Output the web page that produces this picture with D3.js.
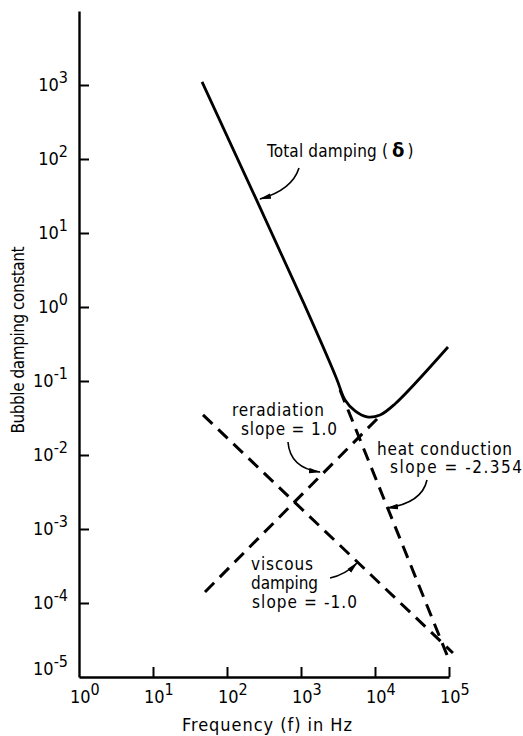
<!DOCTYPE html>
<html lang="en">
<head>
  <meta charset="UTF-8">
  <title>Bubble damping constant</title>
  <script src="https://d3js.org/d3.v7.min.js"></script>
  <style>
    body {
      margin: 0;
      background: white;
    }

    svg {
      width: 523px;
      height: 736px;
      display: block;
    }

    text {
      font-family: "DejaVu Sans Condensed", "DejaVu Sans", sans-serif;
      fill: black;
    }

    .narrow {
      font-family: "Liberation Sans Narrow", "DejaVu Sans Condensed", sans-serif;
    }
  </style>
</head>
<body>

  <svg></svg>

  <script>
    const xExponents = [0, 1, 2, 3, 4, 5];
    const yExponents = [-5, -4, -3, -2, -1, 0, 1, 2, 3];

    // total damping
    const totalFreq = [46, 1100, 3000, 3935, 5370, 7800, 11700, 18600, 96900];
    const totalDamp = [1100, 1.1, 0.11, 0.0553, 0.0394, 0.0327, 0.0347, 0.0489, 0.288];

    // dashed asymptotes, end points
    const heatFreq = [3365, 94000];
    const heatDamp = [0.0755, 1.98e-5];
    const reradFreq = [50.4, 11700];
    const reradDamp = [1.41e-4, 0.0337];
    const viscFreq = [47.4, 113000];
    const viscDamp = [0.0348, 2.11e-5];

    const width = 523;
    const height = 736;
    const margin = {top: 11, bottom: 59, left: 79, right: 74};

    const xScale = d3.scaleLog()
      .domain([1, 1e5])
      .range([margin.left, width - margin.right]);

    const yScale = d3.scaleLog()
      .domain([1e-5, 1e4])
      .range([height - margin.bottom, margin.top]);

    const svg = d3.select(`svg`)
      .attr(`viewBox`, `0 0 ${width} ${height}`);

    svg.append(`defs`).append(`marker`)
      .attr(`id`, `head`)
      .attr(`markerUnits`, `userSpaceOnUse`)
      .attr(`viewBox`, `0 0 12 6`)
      .attr(`refX`, 11)
      .attr(`refY`, 3)
      .attr(`markerWidth`, 12)
      .attr(`markerHeight`, 6)
      .attr(`orient`, `auto`)
      .append(`path`)
      .attr(`d`, `M0,0.3 L12,3 L0,5.7 Z`)
      .attr(`fill`, `black`);

    const xAxis = d3.axisBottom(xScale)
      .tickValues(xExponents.slice(1).map(e => 10 ** e))
      .tickSizeInner(-10)
      .tickSizeOuter(0)
      .tickFormat(``);

    const yAxis = d3.axisLeft(yScale)
      .tickValues(yExponents.slice(1).map(e => 10 ** e))
      .tickSizeInner(-10)
      .tickSizeOuter(0)
      .tickFormat(``);

    const gx = svg.append(`g`)
      .attr(`transform`, `translate(0, ${height - margin.bottom})`)
      .call(xAxis);

    const gy = svg.append(`g`)
      .attr(`transform`, `translate(${margin.left}, 0)`)
      .call(yAxis);

    [gx, gy].forEach(g => {
      g.select(`.domain`).attr(`stroke-width`, 2.4);
      g.selectAll(`.tick line`).attr(`stroke-width`, 2);
    });

    // tick labels as 10 with a raised exponent
    yExponents.forEach(e => {
      const t = svg.append(`text`)
        .attr(`class`, `narrow`)
        .attr(`x`, 68)
        .attr(`y`, yScale(10 ** e) + (e === -5 ? -2 : 6))
        .attr(`text-anchor`, `end`)
        .attr(`font-size`, 18);
      t.append(`tspan`).text(`10`);
      t.append(`tspan`).attr(`dy`, -8).attr(`font-size`, 16).text(e);
    });

    xExponents.forEach(e => {
      const t = svg.append(`text`)
        .attr(`class`, `narrow`)
        .attr(`x`, xScale(10 ** e) - 9)
        .attr(`y`, 703)
        .attr(`font-size`, 18);
      t.append(`tspan`).text(`10`);
      t.append(`tspan`).attr(`dy`, -8).attr(`font-size`, 16).text(e);
    });

    svg.append(`text`)
      .attr(`x`, 267)
      .attr(`y`, 731)
      .attr(`text-anchor`, `middle`)
      .attr(`font-size`, 18)
      .attr(`textLength`, 170)
      .attr(`lengthAdjust`, `spacing`)
      .text(`Frequency (f) in Hz`);

    svg.append(`text`)
      .attr(`transform`, `translate(24, 340) rotate(-90)`)
      .attr(`text-anchor`, `middle`)
      .attr(`font-size`, 17)
      .attr(`textLength`, 187)
      .attr(`lengthAdjust`, `spacing`)
      .text(`Bubble damping constant`);

    const line = d3.line()
      .x(d => xScale(d[0]))
      .y(d => yScale(d[1]));

    const zip = (fs, ds) => fs.map((f, i) => [f, ds[i]]);

    [
      zip(heatFreq, heatDamp),
      zip(reradFreq, reradDamp),
      zip(viscFreq, viscDamp),
    ].forEach(pts => {
      svg.append(`path`)
        .attr(`d`, line(pts))
        .attr(`fill`, `none`)
        .attr(`stroke`, `black`)
        .attr(`stroke-width`, 3)
        .attr(`stroke-dasharray`, `13,8`);
    });

    svg.append(`path`)
      .attr(`d`, line.curve(d3.curveCatmullRom)(zip(totalFreq, totalDamp)))
      .attr(`fill`, `none`)
      .attr(`stroke`, `black`)
      .attr(`stroke-width`, 2.8);

    // annotations: text in page units, arrows in data units
    const notes = [
      {lines: [`Total damping (`], x: 267, y: 157, len: [121]},
      {lines: [`reradiation`, `slope = 1.0`], x: 232, y: 416, dx: [0, 9], dy: [0, 19], len: [92, 96]},
      {lines: [`heat conduction`, `slope = -2.354`], x: 377, y: 455, dx: [0, 13], dy: [0, 18], len: [135, 132]},
      {lines: [`viscous`, `damping`, `slope = -1.0`], x: 251, y: 570, dx: [0, 0, 1], dy: [0, 19, 38], len: [62, 67, 105]},
    ];

    notes.forEach(n => {
      n.lines.forEach((s, i) => {
        svg.append(`text`)
          .attr(`x`, n.x + (n.dx ? n.dx[i] : 0))
          .attr(`y`, n.y + (n.dy ? n.dy[i] : 0))
          .attr(`font-size`, 17)
          .attr(`textLength`, n.len[i])
          .attr(`lengthAdjust`, `spacing`)
          .text(s);
      });
    });

    const delta = svg.append(`text`)
      .attr(`x`, 392)
      .attr(`y`, 157)
      .attr(`font-size`, 17);
    delta.append(`tspan`).attr(`font-weight`, `bold`).attr(`font-size`, 20).text(`\u03b4`);
    delta.append(`tspan`).attr(`dx`, 3).text(`)`);

    const arrows = [
      [[940, 75.5], [755, 38], [279, 28.8]],
      [[667, 0.015], [710, 0.00667], [1806, 0.00589]],
      [[50400, 0.00459], [43200, 0.00224], [14500, 0.00192]],
      [[2466, 2.18e-4], [3935, 2.39e-4], [5710, 3.47e-4]],
    ];

    arrows.forEach(a => {
      const p = d3.path();
      p.moveTo(xScale(a[0][0]), yScale(a[0][1]));
      p.quadraticCurveTo(xScale(a[1][0]), yScale(a[1][1]), xScale(a[2][0]), yScale(a[2][1]));
      svg.append(`path`)
        .attr(`d`, p.toString())
        .attr(`fill`, `none`)
        .attr(`stroke`, `black`)
        .attr(`stroke-width`, 1.6)
        .attr(`marker-end`, `url(#head)`);
    });
  </script>
</body>
</html>
